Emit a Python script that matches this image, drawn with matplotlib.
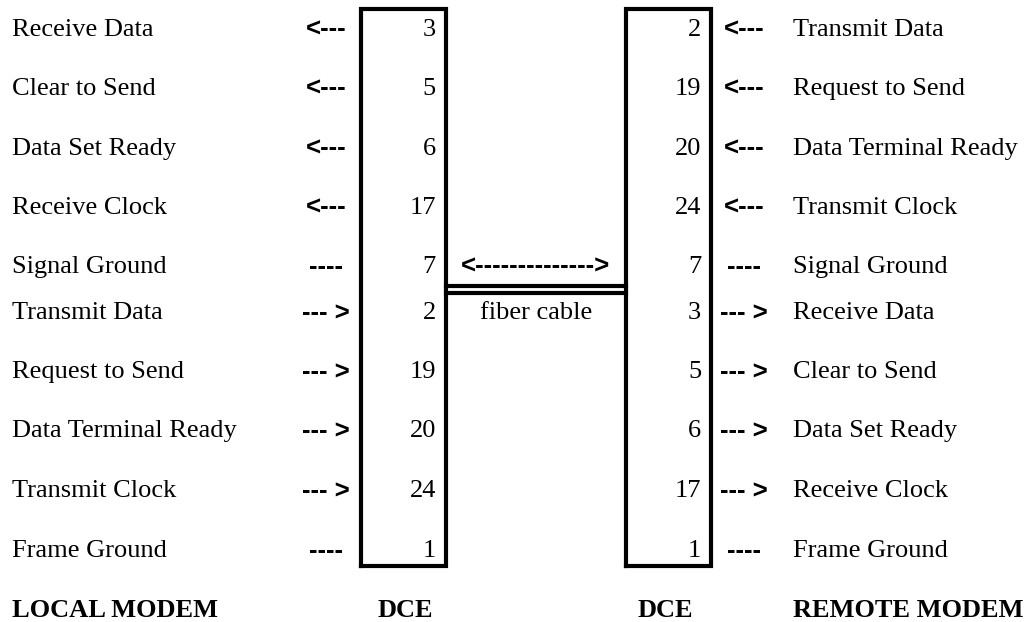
import matplotlib.pyplot as plt

# datos del diagrama
local_labels = ['Receive Data', 'Clear to Send', 'Data Set Ready', 'Receive Clock',
                'Signal Ground', 'Transmit Data', 'Request to Send',
                'Data Terminal Ready', 'Transmit Clock', 'Frame Ground']
local_pins = ['3', '5', '6', '17', '7', '2', '19', '20', '24', '1']
remote_pins = ['2', '19', '20', '24', '7', '3', '5', '6', '17', '1']
remote_labels = ['Transmit Data', 'Request to Send', 'Data Terminal Ready',
                 'Transmit Clock', 'Signal Ground', 'Receive Data',
                 'Clear to Send', 'Data Set Ready', 'Receive Clock', 'Frame Ground']
arrows = ['<---'] * 4 + ['----'] + ['--- >'] * 4 + ['----']
cable_arrow = '<' + '-' * 14 + '>'
cable_label = 'fiber cable'
bottom_labels = ['LOCAL MODEM', 'DCE', 'DCE', 'REMOTE MODEM']

# layout (pixel coords, baselines)
row_y = [36, 95, 155, 214, 273, 319, 378, 437, 497, 557]
W, H = 1027, 622

fig = plt.figure(figsize=(W / 100, H / 100), dpi=100)
ax = fig.add_axes([0, 0, 1, 1])
ax.set_xlim(0, W)
ax.set_ylim(H, 0)
ax.axis('off')

serif = 'Liberation Serif'
sans = 'Liberation Sans'
fs = 19
afs = 18.5
lw = 3

# cajas DCE
for x0, x1 in [(361, 446), (626, 711)]:
    ax.plot([x0, x0, x1, x1, x0], [566, 9, 9, 566, 566], color='black', lw=lw,
            solid_joinstyle='miter')

# cable de fibra
ax.plot([446, 626], [286, 286], color='black', lw=lw)
ax.plot([446, 626], [293, 293], color='black', lw=lw)
ax.text(536, row_y[4] - 6, cable_arrow, family=sans, weight='bold', fontsize=afs,
        ha='center', va='center')
ax.text(536, row_y[5], cable_label, family=serif, fontsize=fs, ha='center',
        va='baseline')

for i, y in enumerate(row_y):
    ax.text(12, y, local_labels[i], family=serif, fontsize=fs, va='baseline')
    ax.text(436, y, local_pins[i], family=serif, fontsize=fs, va='baseline', ha='right')
    ax.text(701, y, remote_pins[i], family=serif, fontsize=fs, va='baseline', ha='right')
    ax.text(793, y, remote_labels[i], family=serif, fontsize=fs, va='baseline')
    a = arrows[i]
    ax.text(326, y - 6, a, family=sans, weight='bold', fontsize=afs, va='center', ha='center')
    ax.text(744, y - 6, a, family=sans, weight='bold', fontsize=afs, va='center', ha='center')

bx = [12, 405, 665, 793]
bha = ['left', 'center', 'center', 'left']
for lab, x, h in zip(bottom_labels, bx, bha):
    ax.text(x, 617, lab, family=serif, weight='bold', fontsize=fs, va='baseline', ha=h)

fig.savefig('out.png', dpi=100)
